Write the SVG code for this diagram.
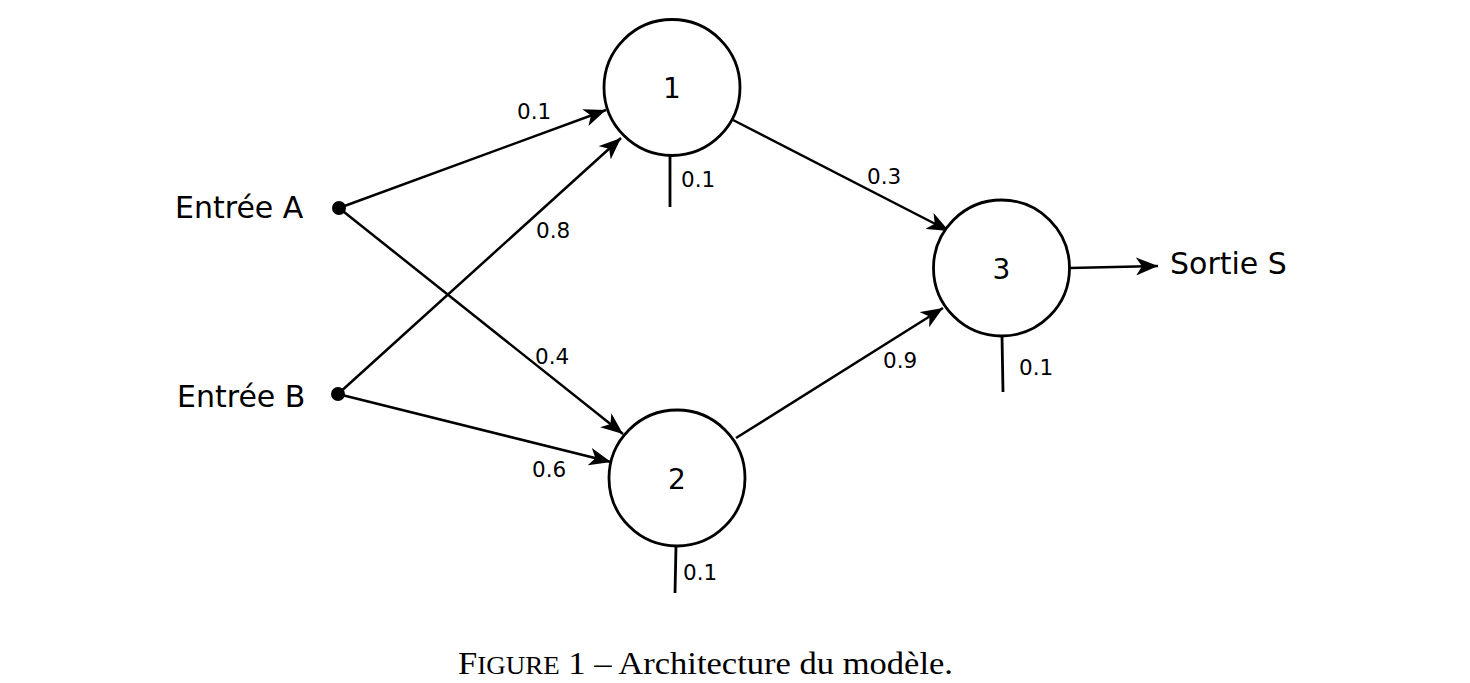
<svg xmlns="http://www.w3.org/2000/svg" width="1470" height="683" viewBox="0 0 1470 683">
<style>
.node{fill:#fff;stroke:#000;stroke-width:2.8}
.edge{stroke:#000;stroke-width:2.5;fill:none}
.bias{stroke:#000;stroke-width:2.8;fill:none}
.lbl{font-family:"DejaVu Sans",Verdana,sans-serif;font-size:21.5px;fill:#000}
.num{font-family:"DejaVu Sans",Verdana,sans-serif;font-size:28px;fill:#000;text-anchor:middle}
.io{font-family:"DejaVu Sans",Verdana,sans-serif;font-size:30px;fill:#000}
.cap{font-family:"Liberation Serif","Times New Roman",serif;font-size:32px;fill:#000}
</style>
<defs>
<marker id="arr" markerUnits="userSpaceOnUse" markerWidth="24" markerHeight="18" refX="22" refY="9" orient="auto">
<path d="M0,0 L22,9 L0,18 L6,9 z" fill="#000"/>
</marker>
</defs>
<rect width="1470" height="683" fill="#fff"/>
<g id="connectors">
<line class="edge" x1="339" y1="208" x2="606" y2="110" marker-end="url(#arr)"/>
<line class="edge" x1="338" y1="394" x2="621" y2="138" marker-end="url(#arr)"/>
<line class="edge" x1="339" y1="208" x2="623" y2="434" marker-end="url(#arr)"/>
<line class="edge" x1="338" y1="394" x2="611" y2="462" marker-end="url(#arr)"/>
<line class="edge" x1="733" y1="120" x2="949" y2="231" marker-end="url(#arr)"/>
<line class="edge" x1="736" y1="438" x2="943" y2="308" marker-end="url(#arr)"/>
<line class="edge" x1="1070" y1="268" x2="1158" y2="266" marker-end="url(#arr)"/>
<text class="lbl" x="517" y="119">0.1</text>
<text class="lbl" x="536" y="238">0.8</text>
<text class="lbl" x="535" y="364">0.4</text>
<text class="lbl" x="532" y="477">0.6</text>
<text class="lbl" x="867" y="184">0.3</text>
<text class="lbl" x="883" y="368">0.9</text>
</g>
<g id="inputA">
<circle cx="339" cy="208" r="7" fill="#000"/>
<text class="io" x="175" y="218">Entrée A</text>
</g>
<g id="inputB">
<circle cx="338" cy="394" r="7" fill="#000"/>
<text class="io" x="177" y="407">Entrée B</text>
</g>
<g id="node1">
<circle class="node" cx="672" cy="87.5" r="68"/>
<text class="num" x="672" y="98">1</text>
<line class="bias" x1="670" y1="155" x2="670" y2="207"/>
<text class="lbl" x="681" y="187">0.1</text>
</g>
<g id="node2">
<circle class="node" cx="677" cy="478" r="68"/>
<text class="num" x="677" y="489">2</text>
<line class="bias" x1="676" y1="546" x2="675" y2="593"/>
<text class="lbl" x="683" y="580">0.1</text>
</g>
<g id="node3">
<circle class="node" cx="1001.5" cy="268" r="68"/>
<text class="num" x="1001.5" y="279">3</text>
<line class="bias" x1="1002" y1="336" x2="1003" y2="392"/>
<text class="lbl" x="1019" y="375">0.1</text>
</g>
<g id="output">
<text class="io" x="1170" y="274">Sortie S</text>
</g>
<text class="cap" x="458" y="674" textLength="495" lengthAdjust="spacingAndGlyphs">F<tspan font-size="25">IGURE</tspan> 1 – Architecture du modèle.</text>
</svg>
